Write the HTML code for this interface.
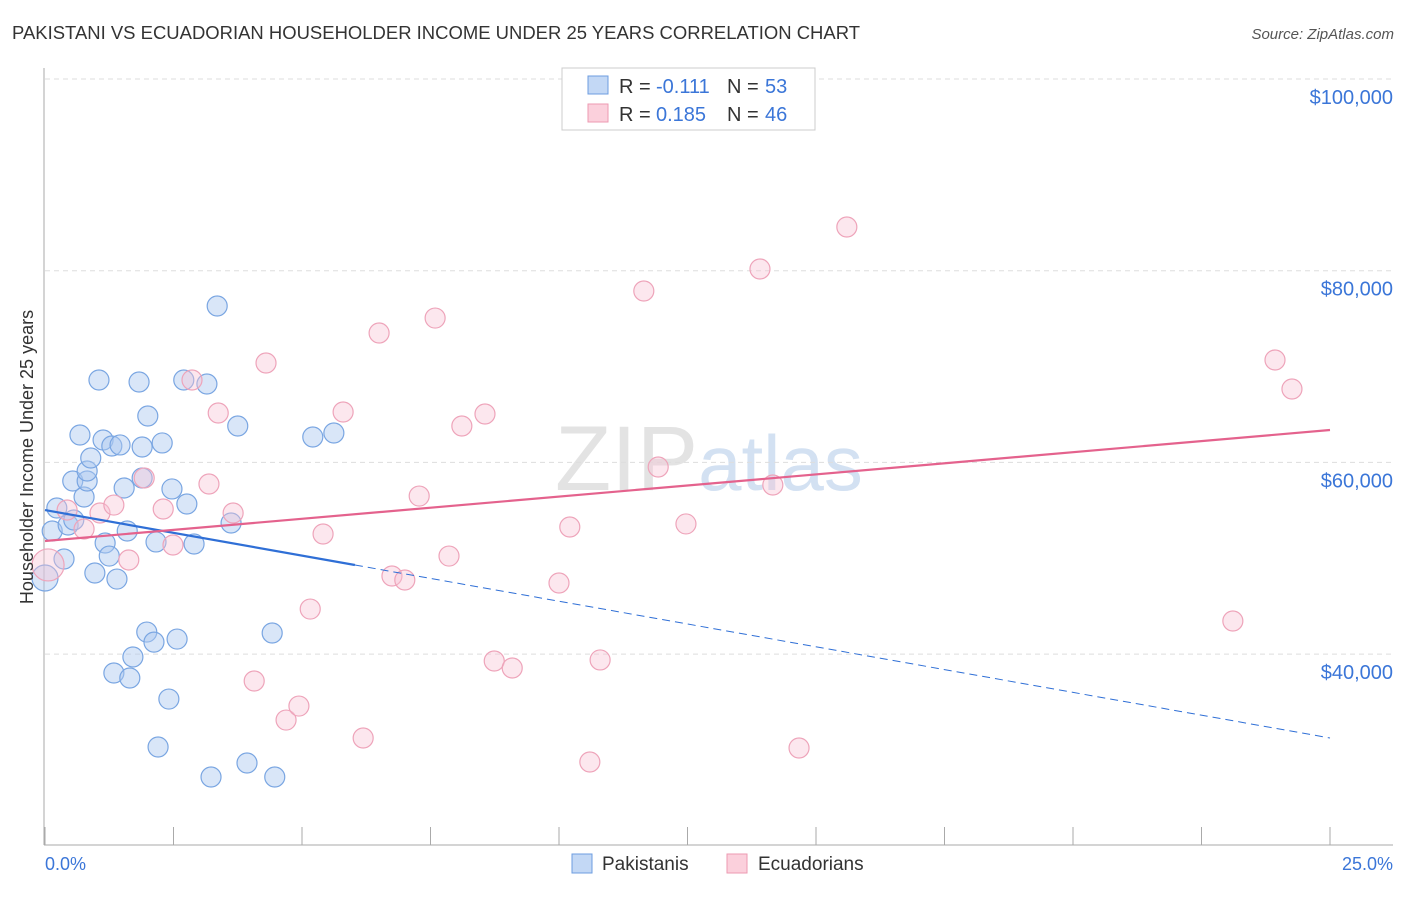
<!DOCTYPE html>
<html><head><meta charset="utf-8"><style>
body{margin:0;background:#fff;font-family:"Liberation Sans",sans-serif;}
svg text{font-family:"Liberation Sans",sans-serif;}
</style></head><body>
<svg id="chart" width="1406" height="892" xmlns="http://www.w3.org/2000/svg">
<text x="12" y="39" font-size="18" fill="#333" textLength="848" lengthAdjust="spacingAndGlyphs">PAKISTANI VS ECUADORIAN HOUSEHOLDER INCOME UNDER 25 YEARS CORRELATION CHART</text>
<text x="1394" y="39" font-size="15" fill="#555" text-anchor="end" font-style="italic">Source: ZipAtlas.com</text>
<text x="555" y="490" font-size="92" fill="#ddd" font-family="Liberation Serif" opacity="0.8">ZIP<tspan fill="#c9daf0" font-family="Liberation Sans" font-size="78">atlas</tspan></text>
<g id="grid"></g><g id="axes"></g><g id="points"></g><g id="lines"></g>
<text transform="translate(33,457) rotate(-90)" font-size="18" fill="#333" text-anchor="middle">Householder Income Under 25 years</text>
<text x="45" y="870" font-size="18" fill="#3b76d8">0.0%</text>
<text x="1393" y="870" font-size="18" fill="#3b76d8" text-anchor="end">25.0%</text>
<g>
<rect x="562" y="68" width="253" height="62" fill="#fff" stroke="#ccc"/>
<rect x="588" y="76" width="20" height="18" fill="#c3d8f5" stroke="#6d9de0"/>
<rect x="588" y="104" width="20" height="18" fill="#fbd0dc" stroke="#ec9ab2"/>
<text x="619" y="93" font-size="20" fill="#333">R =</text>
<text x="656" y="93" font-size="20" fill="#3b76d8">-0.111</text>
<text x="727" y="93" font-size="20" fill="#333">N =</text>
<text x="765" y="93" font-size="20" fill="#3b76d8">53</text>
<text x="619" y="121" font-size="20" fill="#333">R =</text>
<text x="656" y="121" font-size="20" fill="#3b76d8">0.185</text>
<text x="727" y="121" font-size="20" fill="#333">N =</text>
<text x="765" y="121" font-size="20" fill="#3b76d8">46</text>
</g>
<g>
<rect x="572" y="854" width="20" height="19" fill="#c3d8f5" stroke="#6d9de0"/>
<text x="602" y="870" font-size="19" fill="#333">Pakistanis</text>
<rect x="727" y="854" width="20" height="19" fill="#fbd0dc" stroke="#ec9ab2"/>
<text x="758" y="870" font-size="19" fill="#333">Ecuadorians</text>
</g>
</svg>
<script>
const yTicks=[40000,60000,80000,100000];
const yTickLabels=["$40,000","$60,000","$80,000","$100,000"];
const pakX=[0,0.14,0.23,0.37,0.45,0.56,0.54,0.76,0.82,0.68,0.82,0.89,0.97,1.05,1.13,1.17,1.25,1.30,1.40,1.46,1.54,1.60,1.34,1.65,1.71,1.83,1.89,1.89,2.00,1.98,2.12,2.16,2.28,2.41,2.20,2.47,2.57,2.70,2.76,2.90,3.15,3.23,3.35,3.75,3.62,3.93,4.42,4.47,5.21,5.62];
const pakY=[47940,52840,55240,49920,53470,53990,58060,56390,58060,62860,59100,60460,48460,68600,62340,51590,50230,61710,47830,61820,57330,52840,38030,37510,39700,68390,61610,58370,64840,42300,41250,51700,62030,35310,30310,57230,41570,68600,55660,51490,68180,27180,76320,63800,53680,28640,42200,27180,62650,63070];
const ecuX=[0.06,0.43,0.76,1.07,1.34,1.63,1.93,2.30,2.49,2.86,3.19,3.37,3.66,4.07,4.30,4.69,4.94,5.16,5.41,5.80,6.19,6.50,6.75,7.00,7.28,7.59,7.86,8.11,8.56,8.74,9.09,10.00,10.21,10.60,10.80,11.65,11.93,12.47,13.91,14.16,14.67,15.60,23.11,23.93,24.26];
const ecuY=[49300,55030,53050,54720,55550,49820,58370,55140,51380,68600,57750,65150,54720,37190,70370,33120,34580,44700,52530,65260,31250,73500,48150,47730,56490,75060,50230,63800,65050,39280,38550,47420,53260,28740,39390,77880,59520,53580,80180,57640,30200,84560,43450,70680,67660];
const pakLine=[55030,31250], pakSolidEnd=6.03;
const ecuLine=[51800,63380];
const NS="http://www.w3.org/2000/svg";
const xs=v=>45+v*51.4;
const ys=v=>79+(100000-v)*0.009585;
function mk(t,a,p){const e=document.createElementNS(NS,t);for(const k in a)e.setAttribute(k,a[k]);document.getElementById(p).appendChild(e);return e;}
yTicks.forEach((t,i)=>{
 const g=mk('line',{x1:45,x2:1393,y1:ys(t),y2:ys(t),stroke:'#ddd','stroke-dasharray':'5,4'},'grid');
 
 
 const l=mk('text',{x:1393,y:ys(t)+25,'font-size':20,fill:'#3b76d8','text-anchor':'end'},'axes');
 l.textContent=yTickLabels[i];
 
 
});
const ya=mk('line',{x1:44,x2:44,y1:68,y2:845,stroke:'#aaa'},'axes');


const xa=mk('line',{x1:44,x2:1393,y1:845,y2:845,stroke:'#aaa'},'axes');


for(let i=0;i<=10;i++){const t=mk('line',{x1:xs(i*2.5),x2:xs(i*2.5),y1:827,y2:845,stroke:'#aaa'},'axes');
 
 }
pakX.forEach((x,i)=>{const c=mk('circle',{cx:xs(x),cy:ys(pakY[i]),r:i==0?13:10,fill:'rgba(170,200,240,0.45)',stroke:'#7aa6e2','stroke-width':1.2},'points');
 
 });
ecuX.forEach((x,i)=>{const c=mk('circle',{cx:xs(x),cy:ys(ecuY[i]),r:i==0?16:10,fill:'rgba(248,195,212,0.4)',stroke:'#eea4ba','stroke-width':1.2},'points');
 
 });
const pv=x=>pakLine[0]+(pakLine[1]-pakLine[0])*x/25;
const b1=mk('line',{x1:xs(0),y1:ys(pv(0)),x2:xs(pakSolidEnd),y2:ys(pv(pakSolidEnd)),stroke:'#2f6fd6','stroke-width':2.2},'lines');


const b2=mk('line',{x1:xs(pakSolidEnd),y1:ys(pv(pakSolidEnd)),x2:xs(25),y2:ys(pv(25)),stroke:'#2f6fd6','stroke-width':1,'stroke-dasharray':'8,5'},'lines');


const e1=mk('line',{x1:xs(0),y1:ys(ecuLine[0]),x2:xs(25),y2:ys(ecuLine[1]),stroke:'#e4628d','stroke-width':2.2},'lines');


</script>
</body></html>
